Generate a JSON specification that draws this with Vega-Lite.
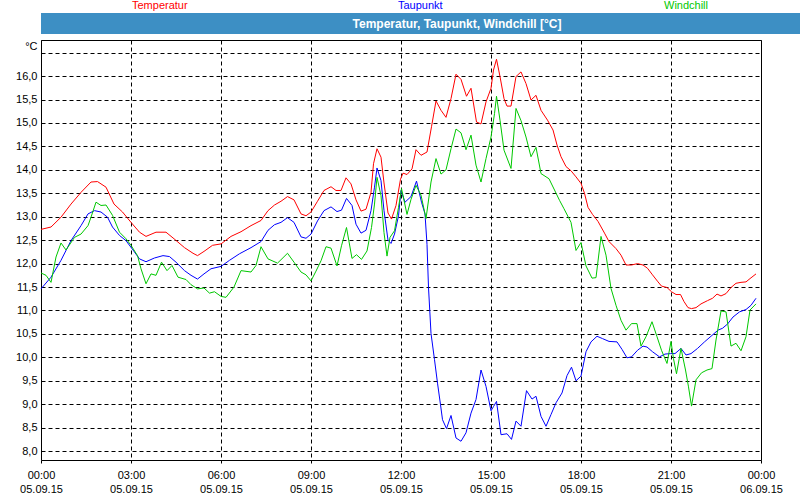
{
  "$schema": "https://vega.github.io/schema/vega-lite/v6.json",
  "autosize": {"type": "pad"},
  "padding": 0,
  "background": "white",
  "spacing": 5,
  "columns": 1,
  "align": "none",
  "config": {"view": {"stroke": "black", "strokeWidth": 1}},
  "concat": [
    {
      "width": 800,
      "height": 21,
      "view": {"fill": "#3d8fc4", "stroke": null},
      "data": {"values": [{"label": "Temperatur, Taupunkt, Windchill [°C]"}]},
      "mark": {"type": "text", "font": "Liberation Sans", "fontSize": 12, "fontWeight": "bold", "color": "white", "dx": 16, "baseline": "middle"},
      "encoding": {"text": {"field": "label", "type": "nominal"}}
    },
    {
      "width": 720,
      "height": 420,
      "data": {"values": [
        {"s":"Temperatur","t":"2015-09-05T00:00","v":12.73},{"s":"Temperatur","t":"2015-09-05T00:20","v":12.78},{"s":"Temperatur","t":"2015-09-05T00:40","v":12.99},{"s":"Temperatur","t":"2015-09-05T01:00","v":13.27},{"s":"Temperatur","t":"2015-09-05T01:20","v":13.52},{"s":"Temperatur","t":"2015-09-05T01:40","v":13.74},{"s":"Temperatur","t":"2015-09-05T01:53","v":13.75},{"s":"Temperatur","t":"2015-09-05T02:10","v":13.63},{"s":"Temperatur","t":"2015-09-05T02:26","v":13.27},{"s":"Temperatur","t":"2015-09-05T02:43","v":13.10},{"s":"Temperatur","t":"2015-09-05T03:00","v":12.88},{"s":"Temperatur","t":"2015-09-05T03:17","v":12.67},{"s":"Temperatur","t":"2015-09-05T03:30","v":12.58},{"s":"Temperatur","t":"2015-09-05T03:50","v":12.67},{"s":"Temperatur","t":"2015-09-05T04:10","v":12.67},{"s":"Temperatur","t":"2015-09-05T04:26","v":12.53},{"s":"Temperatur","t":"2015-09-05T04:47","v":12.34},{"s":"Temperatur","t":"2015-09-05T05:04","v":12.22},{"s":"Temperatur","t":"2015-09-05T05:13","v":12.17},{"s":"Temperatur","t":"2015-09-05T05:26","v":12.26},{"s":"Temperatur","t":"2015-09-05T05:43","v":12.39},{"s":"Temperatur","t":"2015-09-05T06:00","v":12.42},{"s":"Temperatur","t":"2015-09-05T06:20","v":12.58},{"s":"Temperatur","t":"2015-09-05T06:40","v":12.68},{"s":"Temperatur","t":"2015-09-05T07:00","v":12.81},{"s":"Temperatur","t":"2015-09-05T07:20","v":12.92},{"s":"Temperatur","t":"2015-09-05T07:34","v":13.13},{"s":"Temperatur","t":"2015-09-05T07:47","v":13.25},{"s":"Temperatur","t":"2015-09-05T08:00","v":13.33},{"s":"Temperatur","t":"2015-09-05T08:13","v":13.43},{"s":"Temperatur","t":"2015-09-05T08:26","v":13.36},{"s":"Temperatur","t":"2015-09-05T08:40","v":13.06},{"s":"Temperatur","t":"2015-09-05T08:50","v":13.02},{"s":"Temperatur","t":"2015-09-05T09:00","v":13.10},{"s":"Temperatur","t":"2015-09-05T09:13","v":13.33},{"s":"Temperatur","t":"2015-09-05T09:26","v":13.56},{"s":"Temperatur","t":"2015-09-05T09:40","v":13.64},{"s":"Temperatur","t":"2015-09-05T09:50","v":13.56},{"s":"Temperatur","t":"2015-09-05T10:00","v":13.56},{"s":"Temperatur","t":"2015-09-05T10:10","v":13.83},{"s":"Temperatur","t":"2015-09-05T10:20","v":13.70},{"s":"Temperatur","t":"2015-09-05T10:30","v":13.36},{"s":"Temperatur","t":"2015-09-05T10:40","v":13.12},{"s":"Temperatur","t":"2015-09-05T10:50","v":13.16},{"s":"Temperatur","t":"2015-09-05T11:00","v":13.52},{"s":"Temperatur","t":"2015-09-05T11:05","v":14.13},{"s":"Temperatur","t":"2015-09-05T11:12","v":14.45},{"s":"Temperatur","t":"2015-09-05T11:20","v":14.27},{"s":"Temperatur","t":"2015-09-05T11:26","v":13.72},{"s":"Temperatur","t":"2015-09-05T11:34","v":13.08},{"s":"Temperatur","t":"2015-09-05T11:41","v":12.95},{"s":"Temperatur","t":"2015-09-05T11:50","v":13.24},{"s":"Temperatur","t":"2015-09-05T11:59","v":13.80},{"s":"Temperatur","t":"2015-09-05T12:04","v":13.93},{"s":"Temperatur","t":"2015-09-05T12:12","v":13.90},{"s":"Temperatur","t":"2015-09-05T12:22","v":14.02},{"s":"Temperatur","t":"2015-09-05T12:30","v":14.43},{"s":"Temperatur","t":"2015-09-05T12:40","v":14.31},{"s":"Temperatur","t":"2015-09-05T12:52","v":14.38},{"s":"Temperatur","t":"2015-09-05T13:01","v":14.92},{"s":"Temperatur","t":"2015-09-05T13:10","v":15.47},{"s":"Temperatur","t":"2015-09-05T13:20","v":15.27},{"s":"Temperatur","t":"2015-09-05T13:30","v":15.12},{"s":"Temperatur","t":"2015-09-05T13:40","v":15.52},{"s":"Temperatur","t":"2015-09-05T13:50","v":16.04},{"s":"Temperatur","t":"2015-09-05T14:00","v":15.93},{"s":"Temperatur","t":"2015-09-05T14:11","v":15.57},{"s":"Temperatur","t":"2015-09-05T14:20","v":15.74},{"s":"Temperatur","t":"2015-09-05T14:31","v":15.02},{"s":"Temperatur","t":"2015-09-05T14:40","v":14.98},{"s":"Temperatur","t":"2015-09-05T14:50","v":15.45},{"s":"Temperatur","t":"2015-09-05T15:00","v":15.74},{"s":"Temperatur","t":"2015-09-05T15:05","v":16.13},{"s":"Temperatur","t":"2015-09-05T15:11","v":16.36},{"s":"Temperatur","t":"2015-09-05T15:18","v":15.99},{"s":"Temperatur","t":"2015-09-05T15:26","v":15.52},{"s":"Temperatur","t":"2015-09-05T15:32","v":15.36},{"s":"Temperatur","t":"2015-09-05T15:40","v":15.36},{"s":"Temperatur","t":"2015-09-05T15:50","v":15.99},{"s":"Temperatur","t":"2015-09-05T16:00","v":16.09},{"s":"Temperatur","t":"2015-09-05T16:10","v":15.84},{"s":"Temperatur","t":"2015-09-05T16:20","v":15.49},{"s":"Temperatur","t":"2015-09-05T16:30","v":15.59},{"s":"Temperatur","t":"2015-09-05T16:40","v":15.27},{"s":"Temperatur","t":"2015-09-05T16:53","v":15.06},{"s":"Temperatur","t":"2015-09-05T17:04","v":14.85},{"s":"Temperatur","t":"2015-09-05T17:12","v":14.53},{"s":"Temperatur","t":"2015-09-05T17:20","v":14.28},{"s":"Temperatur","t":"2015-09-05T17:30","v":14.07},{"s":"Temperatur","t":"2015-09-05T17:40","v":13.98},{"s":"Temperatur","t":"2015-09-05T17:50","v":13.85},{"s":"Temperatur","t":"2015-09-05T18:00","v":13.71},{"s":"Temperatur","t":"2015-09-05T18:07","v":13.50},{"s":"Temperatur","t":"2015-09-05T18:14","v":13.20},{"s":"Temperatur","t":"2015-09-05T18:23","v":13.05},{"s":"Temperatur","t":"2015-09-05T18:34","v":12.90},{"s":"Temperatur","t":"2015-09-05T18:47","v":12.65},{"s":"Temperatur","t":"2015-09-05T18:56","v":12.47},{"s":"Temperatur","t":"2015-09-05T19:10","v":12.32},{"s":"Temperatur","t":"2015-09-05T19:20","v":12.18},{"s":"Temperatur","t":"2015-09-05T19:30","v":11.97},{"s":"Temperatur","t":"2015-09-05T19:41","v":11.97},{"s":"Temperatur","t":"2015-09-05T19:53","v":12.00},{"s":"Temperatur","t":"2015-09-05T20:04","v":11.97},{"s":"Temperatur","t":"2015-09-05T20:13","v":11.90},{"s":"Temperatur","t":"2015-09-05T20:23","v":11.76},{"s":"Temperatur","t":"2015-09-05T20:34","v":11.61},{"s":"Temperatur","t":"2015-09-05T20:41","v":11.52},{"s":"Temperatur","t":"2015-09-05T20:52","v":11.49},{"s":"Temperatur","t":"2015-09-05T21:01","v":11.40},{"s":"Temperatur","t":"2015-09-05T21:10","v":11.34},{"s":"Temperatur","t":"2015-09-05T21:19","v":11.34},{"s":"Temperatur","t":"2015-09-05T21:26","v":11.19},{"s":"Temperatur","t":"2015-09-05T21:34","v":11.06},{"s":"Temperatur","t":"2015-09-05T21:41","v":11.04},{"s":"Temperatur","t":"2015-09-05T21:50","v":11.06},{"s":"Temperatur","t":"2015-09-05T22:00","v":11.14},{"s":"Temperatur","t":"2015-09-05T22:13","v":11.21},{"s":"Temperatur","t":"2015-09-05T22:23","v":11.26},{"s":"Temperatur","t":"2015-09-05T22:32","v":11.35},{"s":"Temperatur","t":"2015-09-05T22:40","v":11.31},{"s":"Temperatur","t":"2015-09-05T22:50","v":11.36},{"s":"Temperatur","t":"2015-09-05T23:00","v":11.49},{"s":"Temperatur","t":"2015-09-05T23:10","v":11.58},{"s":"Temperatur","t":"2015-09-05T23:20","v":11.60},{"s":"Temperatur","t":"2015-09-05T23:30","v":11.61},{"s":"Temperatur","t":"2015-09-05T23:38","v":11.68},{"s":"Temperatur","t":"2015-09-05T23:50","v":11.78},
        {"s":"Taupunkt","t":"2015-09-05T00:00","v":11.46},{"s":"Taupunkt","t":"2015-09-05T00:20","v":11.71},{"s":"Taupunkt","t":"2015-09-05T00:40","v":12.07},{"s":"Taupunkt","t":"2015-09-05T01:00","v":12.49},{"s":"Taupunkt","t":"2015-09-05T01:20","v":12.81},{"s":"Taupunkt","t":"2015-09-05T01:34","v":13.06},{"s":"Taupunkt","t":"2015-09-05T01:47","v":13.13},{"s":"Taupunkt","t":"2015-09-05T02:00","v":13.10},{"s":"Taupunkt","t":"2015-09-05T02:13","v":12.99},{"s":"Taupunkt","t":"2015-09-05T02:23","v":12.78},{"s":"Taupunkt","t":"2015-09-05T02:37","v":12.60},{"s":"Taupunkt","t":"2015-09-05T02:50","v":12.49},{"s":"Taupunkt","t":"2015-09-05T03:04","v":12.29},{"s":"Taupunkt","t":"2015-09-05T03:17","v":12.10},{"s":"Taupunkt","t":"2015-09-05T03:30","v":12.04},{"s":"Taupunkt","t":"2015-09-05T03:47","v":12.12},{"s":"Taupunkt","t":"2015-09-05T04:04","v":12.17},{"s":"Taupunkt","t":"2015-09-05T04:17","v":12.15},{"s":"Taupunkt","t":"2015-09-05T04:30","v":12.03},{"s":"Taupunkt","t":"2015-09-05T04:47","v":11.85},{"s":"Taupunkt","t":"2015-09-05T05:00","v":11.75},{"s":"Taupunkt","t":"2015-09-05T05:13","v":11.67},{"s":"Taupunkt","t":"2015-09-05T05:26","v":11.78},{"s":"Taupunkt","t":"2015-09-05T05:40","v":11.89},{"s":"Taupunkt","t":"2015-09-05T06:00","v":11.94},{"s":"Taupunkt","t":"2015-09-05T06:17","v":12.07},{"s":"Taupunkt","t":"2015-09-05T06:37","v":12.21},{"s":"Taupunkt","t":"2015-09-05T07:00","v":12.34},{"s":"Taupunkt","t":"2015-09-05T07:20","v":12.47},{"s":"Taupunkt","t":"2015-09-05T07:34","v":12.71},{"s":"Taupunkt","t":"2015-09-05T07:47","v":12.83},{"s":"Taupunkt","t":"2015-09-05T08:00","v":12.88},{"s":"Taupunkt","t":"2015-09-05T08:13","v":12.98},{"s":"Taupunkt","t":"2015-09-05T08:26","v":12.88},{"s":"Taupunkt","t":"2015-09-05T08:40","v":12.57},{"s":"Taupunkt","t":"2015-09-05T08:50","v":12.54},{"s":"Taupunkt","t":"2015-09-05T09:00","v":12.63},{"s":"Taupunkt","t":"2015-09-05T09:13","v":12.91},{"s":"Taupunkt","t":"2015-09-05T09:26","v":13.13},{"s":"Taupunkt","t":"2015-09-05T09:40","v":13.21},{"s":"Taupunkt","t":"2015-09-05T09:52","v":13.11},{"s":"Taupunkt","t":"2015-09-05T10:01","v":13.14},{"s":"Taupunkt","t":"2015-09-05T10:11","v":13.39},{"s":"Taupunkt","t":"2015-09-05T10:22","v":13.24},{"s":"Taupunkt","t":"2015-09-05T10:30","v":12.84},{"s":"Taupunkt","t":"2015-09-05T10:40","v":12.65},{"s":"Taupunkt","t":"2015-09-05T10:50","v":12.71},{"s":"Taupunkt","t":"2015-09-05T11:00","v":13.13},{"s":"Taupunkt","t":"2015-09-05T11:07","v":13.63},{"s":"Taupunkt","t":"2015-09-05T11:12","v":14.04},{"s":"Taupunkt","t":"2015-09-05T11:20","v":13.77},{"s":"Taupunkt","t":"2015-09-05T11:26","v":13.13},{"s":"Taupunkt","t":"2015-09-05T11:34","v":12.50},{"s":"Taupunkt","t":"2015-09-05T11:40","v":12.43},{"s":"Taupunkt","t":"2015-09-05T11:47","v":12.63},{"s":"Taupunkt","t":"2015-09-05T11:55","v":13.02},{"s":"Taupunkt","t":"2015-09-05T12:00","v":13.56},{"s":"Taupunkt","t":"2015-09-05T12:08","v":13.31},{"s":"Taupunkt","t":"2015-09-05T12:20","v":13.43},{"s":"Taupunkt","t":"2015-09-05T12:31","v":13.76},{"s":"Taupunkt","t":"2015-09-05T12:41","v":13.31},{"s":"Taupunkt","t":"2015-09-05T12:48","v":13.06},{"s":"Taupunkt","t":"2015-09-05T12:52","v":12.41},{"s":"Taupunkt","t":"2015-09-05T12:55","v":11.49},{"s":"Taupunkt","t":"2015-09-05T13:00","v":10.51},{"s":"Taupunkt","t":"2015-09-05T13:07","v":9.95},{"s":"Taupunkt","t":"2015-09-05T13:13","v":9.45},{"s":"Taupunkt","t":"2015-09-05T13:19","v":8.99},{"s":"Taupunkt","t":"2015-09-05T13:23","v":8.67},{"s":"Taupunkt","t":"2015-09-05T13:31","v":8.48},{"s":"Taupunkt","t":"2015-09-05T13:40","v":8.76},{"s":"Taupunkt","t":"2015-09-05T13:50","v":8.28},{"s":"Taupunkt","t":"2015-09-05T14:00","v":8.21},{"s":"Taupunkt","t":"2015-09-05T14:10","v":8.39},{"s":"Taupunkt","t":"2015-09-05T14:20","v":8.81},{"s":"Taupunkt","t":"2015-09-05T14:30","v":9.10},{"s":"Taupunkt","t":"2015-09-05T14:40","v":9.73},{"s":"Taupunkt","t":"2015-09-05T14:50","v":9.38},{"s":"Taupunkt","t":"2015-09-05T15:00","v":8.86},{"s":"Taupunkt","t":"2015-09-05T15:05","v":8.95},{"s":"Taupunkt","t":"2015-09-05T15:11","v":9.06},{"s":"Taupunkt","t":"2015-09-05T15:20","v":8.35},{"s":"Taupunkt","t":"2015-09-05T15:32","v":8.37},{"s":"Taupunkt","t":"2015-09-05T15:41","v":8.25},{"s":"Taupunkt","t":"2015-09-05T15:50","v":8.64},{"s":"Taupunkt","t":"2015-09-05T16:00","v":8.53},{"s":"Taupunkt","t":"2015-09-05T16:11","v":9.29},{"s":"Taupunkt","t":"2015-09-05T16:22","v":9.11},{"s":"Taupunkt","t":"2015-09-05T16:30","v":9.17},{"s":"Taupunkt","t":"2015-09-05T16:40","v":8.74},{"s":"Taupunkt","t":"2015-09-05T16:50","v":8.53},{"s":"Taupunkt","t":"2015-09-05T17:00","v":8.78},{"s":"Taupunkt","t":"2015-09-05T17:10","v":9.03},{"s":"Taupunkt","t":"2015-09-05T17:22","v":9.24},{"s":"Taupunkt","t":"2015-09-05T17:32","v":9.61},{"s":"Taupunkt","t":"2015-09-05T17:41","v":9.79},{"s":"Taupunkt","t":"2015-09-05T17:50","v":9.50},{"s":"Taupunkt","t":"2015-09-05T18:00","v":9.60},{"s":"Taupunkt","t":"2015-09-05T18:10","v":10.12},{"s":"Taupunkt","t":"2015-09-05T18:20","v":10.33},{"s":"Taupunkt","t":"2015-09-05T18:32","v":10.45},{"s":"Taupunkt","t":"2015-09-05T18:43","v":10.40},{"s":"Taupunkt","t":"2015-09-05T18:56","v":10.34},{"s":"Taupunkt","t":"2015-09-05T19:12","v":10.33},{"s":"Taupunkt","t":"2015-09-05T19:22","v":10.17},{"s":"Taupunkt","t":"2015-09-05T19:32","v":9.99},{"s":"Taupunkt","t":"2015-09-05T19:41","v":10.01},{"s":"Taupunkt","t":"2015-09-05T19:53","v":10.15},{"s":"Taupunkt","t":"2015-09-05T20:04","v":10.24},{"s":"Taupunkt","t":"2015-09-05T20:12","v":10.22},{"s":"Taupunkt","t":"2015-09-05T20:23","v":10.12},{"s":"Taupunkt","t":"2015-09-05T20:37","v":10.01},{"s":"Taupunkt","t":"2015-09-05T20:48","v":10.07},{"s":"Taupunkt","t":"2015-09-05T20:59","v":10.08},{"s":"Taupunkt","t":"2015-09-05T21:08","v":10.08},{"s":"Taupunkt","t":"2015-09-05T21:20","v":10.19},{"s":"Taupunkt","t":"2015-09-05T21:30","v":10.05},{"s":"Taupunkt","t":"2015-09-05T21:40","v":10.08},{"s":"Taupunkt","t":"2015-09-05T21:53","v":10.19},{"s":"Taupunkt","t":"2015-09-05T22:07","v":10.33},{"s":"Taupunkt","t":"2015-09-05T22:20","v":10.45},{"s":"Taupunkt","t":"2015-09-05T22:34","v":10.58},{"s":"Taupunkt","t":"2015-09-05T22:43","v":10.62},{"s":"Taupunkt","t":"2015-09-05T22:53","v":10.71},{"s":"Taupunkt","t":"2015-09-05T23:04","v":10.86},{"s":"Taupunkt","t":"2015-09-05T23:17","v":10.97},{"s":"Taupunkt","t":"2015-09-05T23:30","v":11.02},{"s":"Taupunkt","t":"2015-09-05T23:40","v":11.11},{"s":"Taupunkt","t":"2015-09-05T23:50","v":11.26},
        {"s":"Windchill","t":"2015-09-05T00:00","v":11.80},{"s":"Windchill","t":"2015-09-05T00:10","v":11.75},{"s":"Windchill","t":"2015-09-05T00:20","v":11.60},{"s":"Windchill","t":"2015-09-05T00:30","v":12.14},{"s":"Windchill","t":"2015-09-05T00:40","v":12.44},{"s":"Windchill","t":"2015-09-05T00:50","v":12.29},{"s":"Windchill","t":"2015-09-05T01:07","v":12.56},{"s":"Windchill","t":"2015-09-05T01:20","v":12.63},{"s":"Windchill","t":"2015-09-05T01:34","v":12.81},{"s":"Windchill","t":"2015-09-05T01:40","v":12.99},{"s":"Windchill","t":"2015-09-05T01:50","v":13.31},{"s":"Windchill","t":"2015-09-05T02:00","v":13.24},{"s":"Windchill","t":"2015-09-05T02:10","v":13.25},{"s":"Windchill","t":"2015-09-05T02:23","v":13.03},{"s":"Windchill","t":"2015-09-05T02:37","v":12.67},{"s":"Windchill","t":"2015-09-05T02:50","v":12.53},{"s":"Windchill","t":"2015-09-05T03:00","v":12.39},{"s":"Windchill","t":"2015-09-05T03:13","v":12.17},{"s":"Windchill","t":"2015-09-05T03:20","v":11.89},{"s":"Windchill","t":"2015-09-05T03:30","v":11.57},{"s":"Windchill","t":"2015-09-05T03:40","v":11.78},{"s":"Windchill","t":"2015-09-05T03:50","v":11.75},{"s":"Windchill","t":"2015-09-05T04:01","v":12.03},{"s":"Windchill","t":"2015-09-05T04:12","v":11.85},{"s":"Windchill","t":"2015-09-05T04:22","v":11.96},{"s":"Windchill","t":"2015-09-05T04:34","v":11.71},{"s":"Windchill","t":"2015-09-05T04:50","v":11.66},{"s":"Windchill","t":"2015-09-05T05:00","v":11.55},{"s":"Windchill","t":"2015-09-05T05:13","v":11.46},{"s":"Windchill","t":"2015-09-05T05:26","v":11.48},{"s":"Windchill","t":"2015-09-05T05:37","v":11.37},{"s":"Windchill","t":"2015-09-05T05:47","v":11.40},{"s":"Windchill","t":"2015-09-05T06:00","v":11.30},{"s":"Windchill","t":"2015-09-05T06:10","v":11.28},{"s":"Windchill","t":"2015-09-05T06:26","v":11.50},{"s":"Windchill","t":"2015-09-05T06:40","v":11.85},{"s":"Windchill","t":"2015-09-05T07:00","v":11.82},{"s":"Windchill","t":"2015-09-05T07:10","v":11.96},{"s":"Windchill","t":"2015-09-05T07:20","v":12.36},{"s":"Windchill","t":"2015-09-05T07:34","v":12.10},{"s":"Windchill","t":"2015-09-05T07:53","v":12.01},{"s":"Windchill","t":"2015-09-05T08:13","v":12.22},{"s":"Windchill","t":"2015-09-05T08:26","v":12.03},{"s":"Windchill","t":"2015-09-05T08:40","v":11.82},{"s":"Windchill","t":"2015-09-05T08:50","v":11.76},{"s":"Windchill","t":"2015-09-05T09:00","v":11.63},{"s":"Windchill","t":"2015-09-05T09:10","v":11.84},{"s":"Windchill","t":"2015-09-05T09:20","v":12.06},{"s":"Windchill","t":"2015-09-05T09:30","v":12.36},{"s":"Windchill","t":"2015-09-05T09:40","v":12.33},{"s":"Windchill","t":"2015-09-05T09:52","v":11.95},{"s":"Windchill","t":"2015-09-05T10:01","v":12.38},{"s":"Windchill","t":"2015-09-05T10:11","v":12.77},{"s":"Windchill","t":"2015-09-05T10:22","v":12.11},{"s":"Windchill","t":"2015-09-05T10:31","v":12.19},{"s":"Windchill","t":"2015-09-05T10:41","v":12.09},{"s":"Windchill","t":"2015-09-05T10:52","v":12.27},{"s":"Windchill","t":"2015-09-05T11:01","v":12.77},{"s":"Windchill","t":"2015-09-05T11:07","v":13.27},{"s":"Windchill","t":"2015-09-05T11:12","v":13.84},{"s":"Windchill","t":"2015-09-05T11:20","v":13.45},{"s":"Windchill","t":"2015-09-05T11:26","v":12.66},{"s":"Windchill","t":"2015-09-05T11:32","v":12.16},{"s":"Windchill","t":"2015-09-05T11:38","v":12.56},{"s":"Windchill","t":"2015-09-05T11:47","v":12.70},{"s":"Windchill","t":"2015-09-05T11:55","v":13.20},{"s":"Windchill","t":"2015-09-05T12:01","v":13.60},{"s":"Windchill","t":"2015-09-05T12:12","v":13.05},{"s":"Windchill","t":"2015-09-05T12:20","v":13.37},{"s":"Windchill","t":"2015-09-05T12:30","v":13.67},{"s":"Windchill","t":"2015-09-05T12:40","v":13.46},{"s":"Windchill","t":"2015-09-05T12:50","v":12.96},{"s":"Windchill","t":"2015-09-05T13:00","v":13.74},{"s":"Windchill","t":"2015-09-05T13:10","v":14.24},{"s":"Windchill","t":"2015-09-05T13:20","v":13.91},{"s":"Windchill","t":"2015-09-05T13:30","v":14.00},{"s":"Windchill","t":"2015-09-05T13:40","v":14.45},{"s":"Windchill","t":"2015-09-05T13:50","v":14.87},{"s":"Windchill","t":"2015-09-05T14:00","v":14.79},{"s":"Windchill","t":"2015-09-05T14:10","v":14.43},{"s":"Windchill","t":"2015-09-05T14:20","v":14.74},{"s":"Windchill","t":"2015-09-05T14:30","v":14.10},{"s":"Windchill","t":"2015-09-05T14:40","v":13.74},{"s":"Windchill","t":"2015-09-05T14:50","v":14.24},{"s":"Windchill","t":"2015-09-05T15:00","v":14.70},{"s":"Windchill","t":"2015-09-05T15:07","v":15.20},{"s":"Windchill","t":"2015-09-05T15:11","v":15.57},{"s":"Windchill","t":"2015-09-05T15:18","v":15.06},{"s":"Windchill","t":"2015-09-05T15:26","v":14.42},{"s":"Windchill","t":"2015-09-05T15:40","v":14.03},{"s":"Windchill","t":"2015-09-05T15:50","v":15.31},{"s":"Windchill","t":"2015-09-05T16:00","v":15.05},{"s":"Windchill","t":"2015-09-05T16:10","v":14.70},{"s":"Windchill","t":"2015-09-05T16:20","v":14.28},{"s":"Windchill","t":"2015-09-05T16:30","v":14.48},{"s":"Windchill","t":"2015-09-05T16:40","v":13.92},{"s":"Windchill","t":"2015-09-05T16:56","v":13.81},{"s":"Windchill","t":"2015-09-05T17:07","v":13.57},{"s":"Windchill","t":"2015-09-05T17:17","v":13.35},{"s":"Windchill","t":"2015-09-05T17:26","v":13.17},{"s":"Windchill","t":"2015-09-05T17:40","v":12.88},{"s":"Windchill","t":"2015-09-05T17:50","v":12.28},{"s":"Windchill","t":"2015-09-05T18:00","v":12.45},{"s":"Windchill","t":"2015-09-05T18:10","v":11.95},{"s":"Windchill","t":"2015-09-05T18:22","v":11.69},{"s":"Windchill","t":"2015-09-05T18:30","v":11.70},{"s":"Windchill","t":"2015-09-05T18:40","v":12.58},{"s":"Windchill","t":"2015-09-05T18:50","v":12.18},{"s":"Windchill","t":"2015-09-05T19:00","v":11.47},{"s":"Windchill","t":"2015-09-05T19:10","v":11.11},{"s":"Windchill","t":"2015-09-05T19:20","v":10.79},{"s":"Windchill","t":"2015-09-05T19:30","v":10.58},{"s":"Windchill","t":"2015-09-05T19:41","v":10.72},{"s":"Windchill","t":"2015-09-05T19:52","v":10.72},{"s":"Windchill","t":"2015-09-05T20:00","v":10.24},{"s":"Windchill","t":"2015-09-05T20:10","v":10.44},{"s":"Windchill","t":"2015-09-05T20:22","v":10.76},{"s":"Windchill","t":"2015-09-05T20:32","v":10.44},{"s":"Windchill","t":"2015-09-05T20:41","v":10.15},{"s":"Windchill","t":"2015-09-05T20:52","v":9.87},{"s":"Windchill","t":"2015-09-05T21:00","v":10.34},{"s":"Windchill","t":"2015-09-05T21:05","v":9.97},{"s":"Windchill","t":"2015-09-05T21:11","v":9.65},{"s":"Windchill","t":"2015-09-05T21:20","v":10.19},{"s":"Windchill","t":"2015-09-05T21:29","v":9.73},{"s":"Windchill","t":"2015-09-05T21:35","v":9.37},{"s":"Windchill","t":"2015-09-05T21:41","v":8.96},{"s":"Windchill","t":"2015-09-05T21:50","v":9.52},{"s":"Windchill","t":"2015-09-05T22:01","v":9.67},{"s":"Windchill","t":"2015-09-05T22:12","v":9.73},{"s":"Windchill","t":"2015-09-05T22:22","v":9.76},{"s":"Windchill","t":"2015-09-05T22:30","v":10.37},{"s":"Windchill","t":"2015-09-05T22:40","v":10.99},{"s":"Windchill","t":"2015-09-05T22:50","v":10.97},{"s":"Windchill","t":"2015-09-05T23:00","v":10.24},{"s":"Windchill","t":"2015-09-05T23:10","v":10.30},{"s":"Windchill","t":"2015-09-05T23:20","v":10.14},{"s":"Windchill","t":"2015-09-05T23:30","v":10.44},{"s":"Windchill","t":"2015-09-05T23:38","v":11.01},{"s":"Windchill","t":"2015-09-05T23:50","v":11.14}
      ]},
      "mark": {"type": "line", "strokeWidth": 1},
      "encoding": {
        "x": {
          "field": "t", "type": "temporal",
          "scale": {"domain": [{"year": 2015, "month": 9, "date": 5, "hours": 0}, {"year": 2015, "month": 9, "date": 6, "hours": 0}], "nice": false},
          "axis": {
            "title": null,
            "tickCount": 8,
            "grid": true, "gridColor": "black", "gridDash": [4, 3], "gridWidth": 1,
            "domain": false, "ticks": true, "tickColor": "black", "tickSize": 3, "tickWidth": 1,
            "labelExpr": "[timeFormat(datum.value, '%H:%M'), timeFormat(datum.value, '%d.%m.%y')]",
            "labelOverlap": false, "labelFlush": false, "labelBound": false,
            "labelFont": "Liberation Sans", "labelFontSize": 11, "labelColor": "black",
            "labelPadding": 6, "labelLineHeight": 14, "labelBaseline": "top"
          }
        },
        "y": {
          "field": "v", "type": "quantitative",
          "scale": {"domain": [7.81, 16.77], "nice": false, "zero": false},
          "axis": {
            "values": [8, 8.5, 9, 9.5, 10, 10.5, 11, 11.5, 12, 12.5, 13, 13.5, 14, 14.5, 15, 15.5, 16, 16.5],
            "grid": true, "gridColor": "black", "gridDash": [4, 3], "gridWidth": 1,
            "domain": false, "ticks": false, "tickSize": 0,
            "labelExpr": "datum.value > 16.2 ? '' : replace(format(datum.value, '.1f'), '.', ',')",
            "labelFont": "Liberation Sans", "labelFontSize": 11, "labelColor": "black", "labelPadding": 4,
            "title": "°C", "titleAngle": 0, "titleAlign": "right", "titleBaseline": "middle",
            "titleX": -4, "titleY": 6, "titleFont": "Liberation Sans", "titleFontSize": 11,
            "titleFontWeight": "normal", "titleColor": "black",
            "minExtent": 40, "maxExtent": 40
          }
        },
        "color": {"field": "s", "type": "nominal",
          "scale": {"domain": ["Temperatur", "Taupunkt", "Windchill"], "range": ["#ff0000", "#0000ff", "#00c800"]},
          "legend": {
            "title": null, "orient": "top", "offset": 2, "padding": 0,
            "direction": "horizontal", "gridAlign": "all", "columnPadding": 119,
            "symbolType": "circle", "symbolSize": 1, "symbolOpacity": 0, "symbolStrokeWidth": 0, "labelOffset": 80,
            "labelFont": "Liberation Sans", "labelFontSize": 11,
            "encode": {"labels": {"update": {"fill": {"scale": "color", "field": "value"}}}}
          }
        }
      }
    }
  ]
}
